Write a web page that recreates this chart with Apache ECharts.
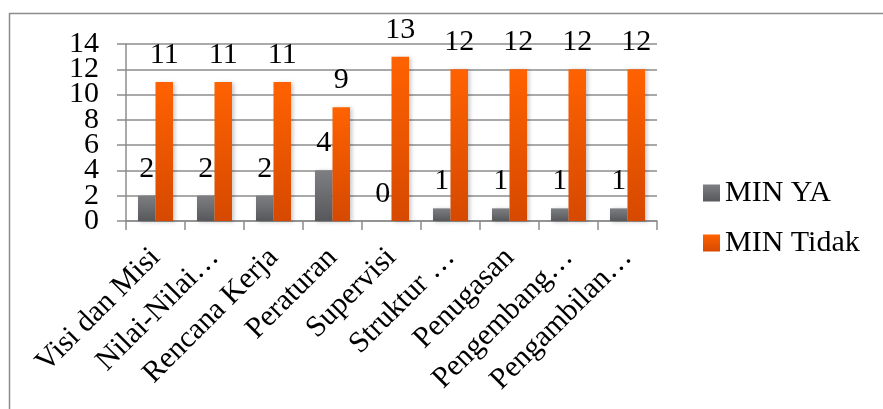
<!DOCTYPE html>
<html>
<head>
<meta charset="utf-8">
<script src="https://cdn.jsdelivr.net/npm/echarts@6/dist/echarts.min.js"></script>
<style>
  html, body { margin: 0; padding: 0; background: #fff; }
  #chart { width: 883px; height: 409px; }
</style>
</head>
<body>
<div id="chart"></div>
<script>
// Categories and values per series
const categories = ['Visi dan Misi', 'Nilai-Nilai…', 'Rencana Kerja', 'Peraturan', 'Supervisi',
  'Struktur …', 'Penugasan', 'Pengembang…', 'Pengambilan…'];
const minYa = [2, 2, 2, 4, 0, 1, 1, 1, 1];
const minTidak = [11, 11, 11, 9, 13, 12, 12, 12, 12];
const seriesNames = ['MIN YA', 'MIN Tidak'];
const yTicks = { min: 0, max: 14, interval: 2 };

const FONT = '"Liberation Serif", "Times New Roman", serif';
const FS = 30;
const GRID_COLOR = '#8c8c8c';

const grayFill = new echarts.graphic.LinearGradient(0, 0, 0, 1, [
  { offset: 0, color: '#7d7f83' },
  { offset: 1, color: '#56585c' }
]);
const orangeFill = new echarts.graphic.LinearGradient(0, 0, 0, 1, [
  { offset: 0, color: '#ff6200' },
  { offset: 1, color: '#d64900' }
]);

const labelStyle = {
  show: true,
  position: 'top',
  distance: 12,
  color: '#000',
  fontFamily: FONT,
  fontSize: FS
};

// The tick labels are packed tightly, so they are split over two
// overlaid value axes (alternate ticks each) to keep every one visible.
function tickAxis(keepEven, drawLines) {
  return {
    type: 'value',
    position: 'left',
    min: yTicks.min,
    max: yTicks.max,
    interval: yTicks.interval,
    axisLine: { show: drawLines, lineStyle: { color: GRID_COLOR, width: 1.5 } },
    axisTick: { show: drawLines, length: 9, lineStyle: { color: GRID_COLOR, width: 1.5 } },
    splitLine: { show: drawLines, lineStyle: { color: GRID_COLOR, width: 1.5 } },
    axisLabel: {
      margin: 27,
      showMinLabel: true,
      showMaxLabel: true,
      color: '#000',
      fontFamily: FONT,
      fontSize: FS,
      formatter: v => ((Math.round(v / yTicks.interval) % 2 === 0) === keepEven ? String(v) : '')
    }
  };
}

const chart = echarts.init(document.getElementById('chart'), null, { renderer: 'canvas' });
chart.setOption({
  animation: false,
  backgroundColor: '#fff',
  graphic: [{
    type: 'rect',
    shape: { x: 9.5, y: 13.5, width: 1000, height: 1000 },
    style: { fill: 'none', stroke: GRID_COLOR, lineWidth: 1.5 },
    silent: true
  }],
  grid: { left: 126, right: 226, top: 44, bottom: 188 },
  legend: {
    orient: 'vertical',
    left: 698,
    top: 173,
    itemWidth: 17,
    itemHeight: 17,
    itemGap: 20,
    icon: 'rect',
    textStyle: { color: '#000', fontFamily: FONT, fontSize: FS },
    data: seriesNames
  },
  xAxis: {
    type: 'category',
    data: categories,
    axisLine: { lineStyle: { color: GRID_COLOR, width: 1.5 } },
    axisTick: { show: true, length: 9, lineStyle: { color: GRID_COLOR, width: 1.5 } },
    axisLabel: {
      interval: 0,
      rotate: 45,
      margin: 32,
      hideOverlap: false,
      color: '#000',
      fontFamily: FONT,
      fontSize: 30
    }
  },
  yAxis: [tickAxis(true, true), tickAxis(false, false)],
  series: [
    {
      name: seriesNames[0],
      type: 'bar',
      data: minYa,
      barWidth: 17.5,
      barGap: '0%',
      itemStyle: {
        color: grayFill,
        shadowColor: 'rgba(0,0,0,0.22)',
        shadowBlur: 4,
        shadowOffsetX: 2,
        shadowOffsetY: 1
      },
      label: labelStyle
    },
    {
      name: seriesNames[1],
      type: 'bar',
      data: minTidak,
      barWidth: 17.5,
      barGap: '0%',
      itemStyle: {
        color: orangeFill,
        shadowColor: 'rgba(0,0,0,0.22)',
        shadowBlur: 4,
        shadowOffsetX: 2,
        shadowOffsetY: 1
      },
      label: labelStyle
    }
  ]
});
</script>
</body>
</html>
